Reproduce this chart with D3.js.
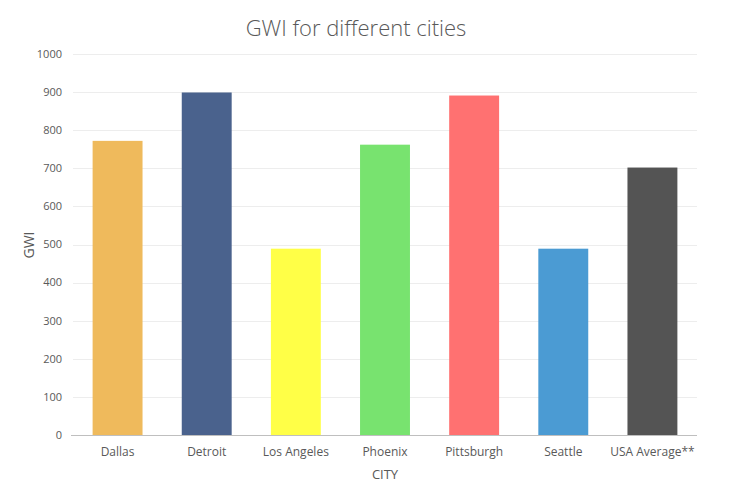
<!DOCTYPE html>
<html>
<head>
<meta charset="utf-8">
<script src="https://cdn.jsdelivr.net/npm/d3@7"></script>
<style>
  body { margin: 0; background: #fff; }
  svg text { font-family: "Open Sans", "Noto Sans", sans-serif; fill: #595959; }
</style>
</head>
<body>
<svg id="chart" width="737" height="485"></svg>
<script>
// chart data
var cities = ["Dallas", "Detroit", "Los Angeles", "Phoenix", "Pittsburgh", "Seattle", "USA Average**"];
var gwi = [772, 899, 489, 762, 891, 489, 702];
var barColors = ["#EFBA5C", "#4A628D", "#FFFF47", "#78E36F", "#FF7171", "#4B9BD3", "#545454"];
var yTicks = [0, 100, 200, 300, 400, 500, 600, 700, 800, 900, 1000];

var svg = d3.select("#chart");
// plot box (window.top is reserved, so no "top" here)
var plotLeft = 73, plotRight = 697, plotTop = 54, plotBottom = 435;

var x = d3.scaleBand()
    .domain(cities)
    .range([plotLeft, plotRight])
    .paddingInner(0.44)
    .paddingOuter(0.22);

var y = d3.scaleLinear()
    .domain([0, 1000])
    .range([plotBottom, plotTop]);

// gridlines
svg.append("g")
  .selectAll("line")
  .data(yTicks.slice(1))
  .enter().append("line")
    .attr("x1", plotLeft)
    .attr("x2", plotRight)
    .attr("y1", function(d) { return Math.round(y(d)) + 0.5; })
    .attr("y2", function(d) { return Math.round(y(d)) + 0.5; })
    .attr("stroke", "#EDEDED")
    .attr("stroke-width", 1);

// y tick labels
svg.append("g")
  .selectAll("text")
  .data(yTicks)
  .enter().append("text")
    .attr("x", 62)
    .attr("y", function(d) { return y(d); })
    .attr("dy", "0.35em")
    .attr("text-anchor", "end")
    .style("font-size", "11px")
    .text(function(d) { return d; });

// bars
svg.append("g")
  .selectAll("rect")
  .data(cities)
  .enter().append("rect")
    .attr("x", function(d) { return x(d); })
    .attr("width", x.bandwidth())
    .attr("y", function(d, i) { return y(gwi[i]); })
    .attr("height", function(d, i) { return plotBottom - y(gwi[i]); })
    .attr("fill", function(d, i) { return barColors[i]; });

// baseline
svg.append("line")
    .attr("x1", plotLeft - 2)
    .attr("x2", plotRight)
    .attr("y1", plotBottom + 0.5)
    .attr("y2", plotBottom + 0.5)
    .attr("stroke", "#BFBFBF");

// category labels
svg.append("g")
  .selectAll("text")
  .data(cities)
  .enter().append("text")
    .attr("x", function(d) { return x(d) + x.bandwidth() / 2; })
    .attr("y", 456)
    .attr("text-anchor", "middle")
    .style("font-size", "12px")
    .text(function(d) { return d; });

// axis titles
svg.append("text")
    .attr("x", 385)
    .attr("y", 479)
    .attr("text-anchor", "middle")
    .style("font-size", "13px")
    .text("CITY");

svg.append("text")
    .attr("transform", "translate(34,245) rotate(-90)")
    .attr("text-anchor", "middle")
    .style("font-size", "14px")
    .text("GWI");

// title
svg.append("text")
    .attr("x", 356)
    .attr("y", 36)
    .attr("text-anchor", "middle")
    .style("font-size", "22px")
    .style("font-weight", "300")
    .text("GWI for different cities");
</script>
</body>
</html>
